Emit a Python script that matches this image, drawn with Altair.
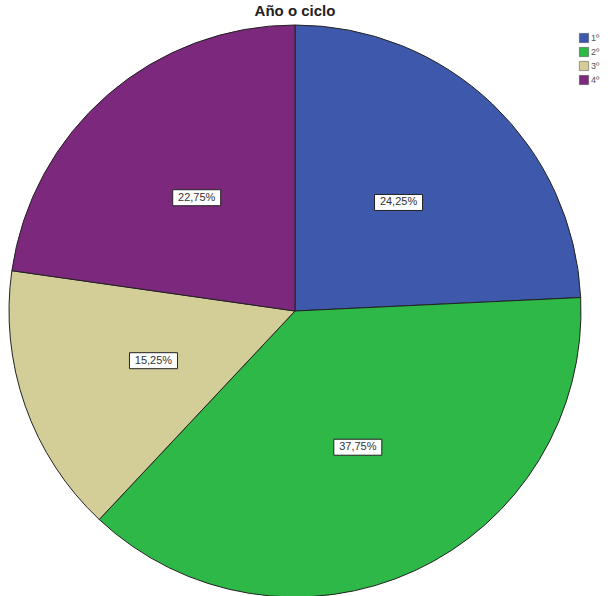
import altair as alt
import pandas as pd

categories = ["1º", "2º", "3º", "4º"]
percentages = [24.25, 37.75, 15.25, 22.75]
colors = ["#3E58AC", "#2EB848", "#D3CE97", "#7C287D"]

df = pd.DataFrame({"cat": categories, "pct": percentages, "ord": list(range(len(categories)))})

CX, CY = 295, 311
R = 286
LR = 150
W, H = 612, 596

base = alt.Chart(df)

arcs = base.mark_arc(outerRadius=R, stroke="#222222", strokeWidth=1).encode(
    theta=alt.Theta("pct:Q", stack=True),
    order=alt.Order("ord:Q"),
    color=alt.Color(
        "cat:N",
        scale=alt.Scale(domain=categories, range=colors),
        legend=alt.Legend(
            title=None, orient="none", legendX=579, legendY=33,
            symbolType="square", symbolSize=85, symbolStrokeColor="#444444",
            symbolStrokeWidth=0.5, labelFontSize=9, labelColor="#555555",
            rowPadding=2, labelOffset=2, labelFont="Liberation Sans",
        ),
    ),
    x=alt.value(CX),
    y=alt.value(CY),
)

lab = base.transform_window(
    cum="sum(pct)", sort=[alt.SortField("ord")], frame=[None, 0]
).transform_calculate(
    mid="(datum.cum - datum.pct/2) / 100 * 2 * PI",
    lx=f"sin(datum.mid) * {LR}",
    ly=f"cos(datum.mid) * {LR}",
    label="replace(format(datum.pct, '.2f'), '.', ',') + '%'",
)

xs = alt.Scale(domain=[-CX, W - CX], range=[0, W])
ys = alt.Scale(domain=[-(H - CY), CY], range=[H, 0])

boxes = lab.mark_point(
    shape="M-1.5,-0.5L1.5,-0.5L1.5,0.5L-1.5,0.5Z", size=1024, filled=True,
    fill="white", stroke="#222222", strokeWidth=1, opacity=1,
).encode(
    x=alt.X("lx:Q", scale=xs, axis=None),
    y=alt.Y("ly:Q", scale=ys, axis=None),
)

texts = lab.mark_text(fontSize=11, font="Liberation Sans", color="#333333").encode(
    x=alt.X("lx:Q", scale=xs, axis=None),
    y=alt.Y("ly:Q", scale=ys, axis=None),
    text="label:N",
)

title = alt.Chart(pd.DataFrame({"t": ["Año o ciclo"]})).mark_text(
    fontSize=15, fontWeight="bold", font="Liberation Sans", color="#222222", baseline="top"
).encode(x=alt.value(295), y=alt.value(4), text="t:N")

chart = alt.layer(arcs, boxes, texts, title).properties(
    width=W, height=H, autosize=alt.AutoSizeParams(type="none"), padding=0
).configure_view(stroke=None)

chart.save("out.html", embed_options={"renderer": "svg", "actions": False})
